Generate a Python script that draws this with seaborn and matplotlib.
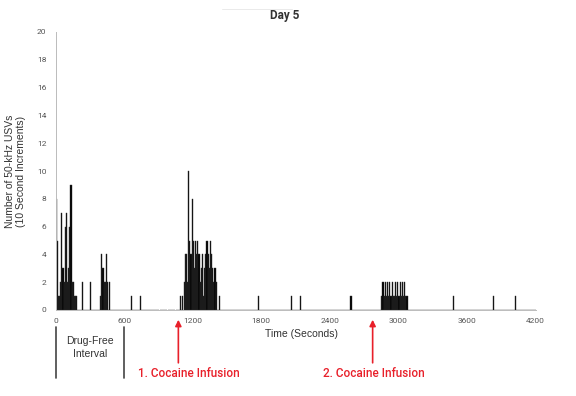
import numpy as np
import pandas as pd
import matplotlib
matplotlib.use("Agg")
import matplotlib.pyplot as plt
import matplotlib.transforms as mtransforms
import seaborn as sns

# ---- data (10-second bins; start time in seconds and USV count) ----
bin_starts = [0, 10, 20, 30, 40, 50, 60, 70, 80, 90, 100, 110, 120, 130, 140, 150, 160, 170, 180,
              230, 300,
              390, 400, 410, 420, 430, 440, 450, 470,
              660, 740,
              1090, 1110, 1120, 1130, 1140, 1150, 1160, 1170, 1180, 1190, 1200, 1210, 1220, 1230,
              1240, 1250, 1260, 1270, 1280, 1290, 1300, 1310, 1320, 1330, 1340, 1350, 1360, 1370,
              1380, 1390, 1400, 1430,
              1770, 2060, 2140, 2580,
              2850, 2860, 2870, 2880, 2890, 2900, 2910, 2920, 2930, 2940, 2950, 2960, 2970, 2980,
              2990, 3000, 3010, 3020, 3030, 3040, 3050, 3060, 3070,
              3480, 3830, 4020]
usv_counts = [8, 5, 1, 1, 2, 7, 3, 2, 6, 7, 2, 3, 6, 9, 2, 2, 1, 1, 1,
              2, 2,
              1, 4, 3, 2, 2, 4, 2, 2,
              1, 1,
              1, 1, 2, 4, 4, 2, 10, 5, 4, 8, 5, 3, 5, 4,
              5, 4, 2, 3, 4, 1, 3, 4, 5, 4, 3, 5, 4, 3,
              2, 3, 2, 1,
              1, 1, 1, 1,
              1, 2, 1, 2, 1, 2, 1, 2, 1, 2, 1, 1, 2, 1,
              2, 1, 2, 1, 2, 1, 2, 1, 1,
              1, 1, 1]

x_ticks = [0, 600, 1200, 1800, 2400, 3000, 3600, 4200]
y_ticks = list(range(0, 21, 2))
infusion_times = [1075, 2775]
infusion_labels = ["1. Cocaine Infusion", "2. Cocaine Infusion"]
drug_free_bounds = [0, 600]

df = pd.DataFrame({"time": bin_starts, "count": usv_counts})

sns.set_style("white")
plt.rcParams["font.family"] = ["Roboto", "DejaVu Sans"]

fig = plt.figure(figsize=(5.76, 3.96), dpi=100)
ax = fig.add_axes([55.5 / 576, 1 - 310 / 396, 480 / 576, 278 / 396])

sns.histplot(data=df, x="time", weights="count", binwidth=10, binrange=(0, 4200),
             color="black", edgecolor="#333333", linewidth=0.3, alpha=1.0, ax=ax)

ax.set_xlim(0, 4200)
ax.set_ylim(0, 20)
ax.set_xticks(x_ticks)
ax.set_xticks(np.arange(0, 4201, 60), minor=True)
ax.set_yticks(y_ticks)
ax.tick_params(axis="both", labelsize=6, labelcolor="#555555", colors="#999999",
               length=3, width=0.6)
ax.tick_params(axis="x", which="both", direction="inout", length=3, colors="#999999")
ax.tick_params(axis="x", which="major", pad=4, labelcolor="#555555")
for s in ["top", "right"]:
    ax.spines[s].set_visible(False)
for s in ["left", "bottom"]:
    ax.spines[s].set_color("#bbbbbb")
    ax.spines[s].set_linewidth(0.7)

ax.set_xlabel("")
ax.set_ylabel("Number of 50-kHz USVs\n(10 Second Increments)", fontsize=7.5,
              color="#333333", family=["Liberation Sans", "DejaVu Sans"], linespacing=1.1)
ax.yaxis.set_label_coords(-0.062, 0.5)
trans = mtransforms.blended_transform_factory(ax.transData, ax.transAxes)
ax.text(2150, -0.085, "Time (Seconds)", transform=trans,
        ha="center", va="center", fontsize=7.5, color="#333333",
        family=["Liberation Sans", "DejaVu Sans"])

fig.text(0.495, 0.962, "Day 5", ha="center", va="center", fontsize=8.5,
         fontweight="bold", color="#333333")
fig.add_artist(plt.Line2D([222 / 576, 292 / 576], [1 - 9 / 396, 1 - 9 / 396],
                          color="#e6e6e6", lw=0.6))

# drug-free interval markers
for b in drug_free_bounds:
    ax.plot([b, b], [-0.06, -0.245], transform=trans, color="#444444", lw=1.2, clip_on=False)
ax.text(sum(drug_free_bounds) / 2, -0.135, "Drug-Free\nInterval", transform=trans,
        ha="center", va="center", fontsize=7.5, color="#333333", linespacing=1.3,
        family=["Liberation Sans", "DejaVu Sans"])

label_offsets = [95, 15]
for t, lab, off in zip(infusion_times, infusion_labels, label_offsets):
    ax.annotate("", xy=(t, -0.035), xytext=(t, -0.19), xycoords=trans, textcoords=trans,
                arrowprops=dict(arrowstyle="-|>", color="#e8202a", lw=1.2,
                                mutation_scale=9, shrinkA=0, shrinkB=0),
                annotation_clip=False)
    ax.text(t + off, -0.23, lab, transform=trans, ha="center", va="center",
            fontsize=8.5, fontweight="medium", color="#e8202a")

fig.savefig("out.png", dpi=100, facecolor="white")
